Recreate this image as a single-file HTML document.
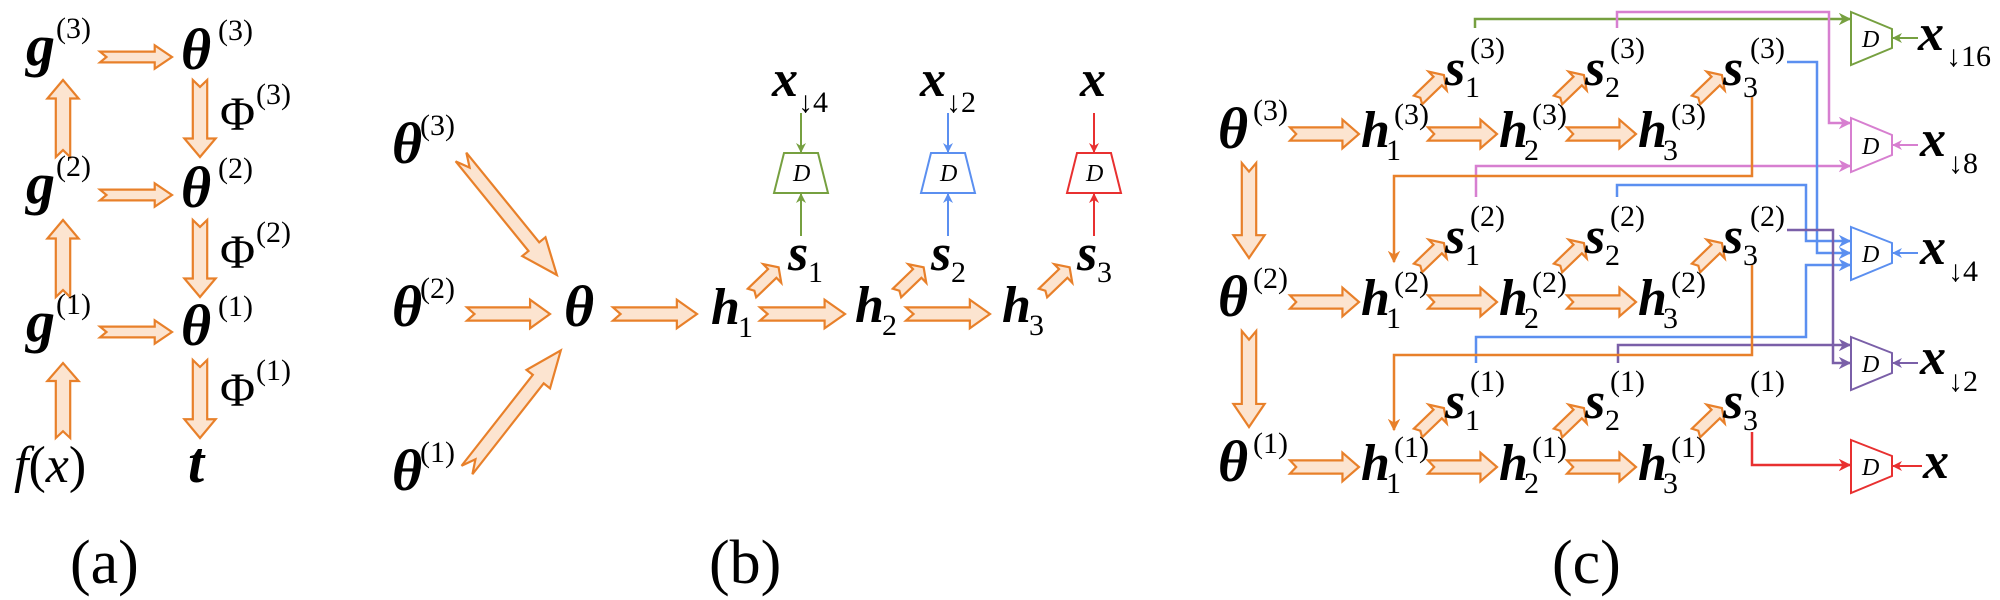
<!DOCTYPE html>
<html><head><meta charset="utf-8"><style>
html,body{margin:0;padding:0;background:#fff;}
svg{display:block;}
svg text{font-family:"Liberation Serif","Times New Roman",Tinos,"Nimbus Roman","DejaVu Serif",serif;}
.m{font-weight:bold;font-style:italic;font-size:52px;fill:#000;}
.t{font-weight:bold;font-style:italic;font-size:58px;fill:#000;}
.n{font-size:30px;fill:#000;}
.p{font-size:48px;fill:#000;}
.it{font-style:italic;font-size:52px;fill:#000;}
.lb{font-size:62px;fill:#000;}
.d{font-style:italic;font-size:24px;fill:#000;}
.fa{fill:#fce4d0;stroke:#e8802a;stroke-width:2.2;stroke-linejoin:miter;}
.w{fill:none;stroke-width:2.5;}
</style></head><body>
<svg width="2000" height="600" viewBox="0 0 2000 600" xmlns="http://www.w3.org/2000/svg" font-family="Liberation Serif, serif">
<defs>
<path id="A" d="M0,-6 L76,-6 L76,-13 L100,0 L76,13 L76,6 L0,6 L9,0 Z" vector-effect="non-scaling-stroke"/>
<marker id="mg" viewBox="0 0 10 10" refX="9" refY="5" markerWidth="5" markerHeight="5" orient="auto"><path d="M0,0L10,5L0,10L3,5z" fill="#76a040"/></marker>
<marker id="mp" viewBox="0 0 10 10" refX="9" refY="5" markerWidth="5" markerHeight="5" orient="auto"><path d="M0,0L10,5L0,10L3,5z" fill="#d77fd0"/></marker>
<marker id="mb" viewBox="0 0 10 10" refX="9" refY="5" markerWidth="5" markerHeight="5" orient="auto"><path d="M0,0L10,5L0,10L3,5z" fill="#5b8ff0"/></marker>
<marker id="mu" viewBox="0 0 10 10" refX="9" refY="5" markerWidth="5" markerHeight="5" orient="auto"><path d="M0,0L10,5L0,10L3,5z" fill="#7a5fa8"/></marker>
<marker id="mr" viewBox="0 0 10 10" refX="9" refY="5" markerWidth="5" markerHeight="5" orient="auto"><path d="M0,0L10,5L0,10L3,5z" fill="#e83030"/></marker>
<marker id="mo" viewBox="0 0 10 10" refX="9" refY="5" markerWidth="5" markerHeight="5" orient="auto"><path d="M0,0L10,5L0,10L3,5z" fill="#e8802a"/></marker>
</defs>

<!-- ===== (a) ===== -->
<g class="fa">
<use href="#A" transform="translate(100,57) scale(0.72,0.9)"/>
<use href="#A" transform="translate(100,195) scale(0.72,0.9)"/>
<use href="#A" transform="translate(100,332) scale(0.72,0.9)"/>
<use href="#A" transform="translate(200,80) rotate(90) scale(0.77,1.2)"/>
<use href="#A" transform="translate(200,220) rotate(90) scale(0.77,1.2)"/>
<use href="#A" transform="translate(200,360) rotate(90) scale(0.78,1.2)"/>
<use href="#A" transform="translate(63,157) rotate(-90) scale(0.77,1.2)"/>
<use href="#A" transform="translate(63,297) rotate(-90) scale(0.77,1.2)"/>
<use href="#A" transform="translate(63,438) rotate(-90) scale(0.75,1.2)"/>
</g>
<text class="t" x="26" y="65">g</text><text class="n" x="56" y="38">(3)</text>
<text class="t" x="26" y="203">g</text><text class="n" x="56" y="176">(2)</text>
<text class="t" x="26" y="341">g</text><text class="n" x="56" y="314">(1)</text>
<text class="t" x="181" y="69">θ</text><text class="n" x="218" y="40">(3)</text>
<text class="t" x="181" y="207">θ</text><text class="n" x="218" y="178">(2)</text>
<text class="t" x="181" y="345">θ</text><text class="n" x="218" y="316">(1)</text>
<text class="p" x="220" y="130">Φ</text><text class="n" x="256" y="104">(3)</text>
<text class="p" x="220" y="268">Φ</text><text class="n" x="256" y="242">(2)</text>
<text class="p" x="220" y="406">Φ</text><text class="n" x="256" y="380">(1)</text>
<text class="it" x="14" y="482">f<tspan font-style="normal">(</tspan>x<tspan font-style="normal">)</tspan></text>
<text class="t" x="188" y="482">t</text>
<text class="lb" x="70" y="583">(a)</text>

<!-- ===== (b) ===== -->
<g class="fa">
<use href="#A" transform="translate(461,157) rotate(50.9) scale(1.52,1.15)"/>
<use href="#A" transform="translate(467,470) rotate(-51.9) scale(1.52,1.15)"/>
<use href="#A" transform="translate(467,314) scale(0.83,1.1)"/>
<use href="#A" transform="translate(613,314) scale(0.84,1.1)"/>
<use href="#A" transform="translate(760,314) scale(0.85,1.1)"/>
<use href="#A" transform="translate(906,314) scale(0.84,1.1)"/>
<use href="#A" transform="translate(752,293) rotate(-44) scale(0.37,1.0)"/>
<use href="#A" transform="translate(897,293) rotate(-44) scale(0.37,1.0)"/>
<use href="#A" transform="translate(1043,293) rotate(-44) scale(0.37,1.0)"/>
</g>
<text class="t" x="392" y="163">θ</text><text class="n" x="420" y="135">(3)</text>
<text class="t" x="392" y="326">θ</text><text class="n" x="420" y="298">(2)</text>
<text class="t" x="392" y="490">θ</text><text class="n" x="420" y="462">(1)</text>
<text class="t" x="564" y="326">θ</text>
<text class="m" x="711" y="324">h</text><text class="n" x="738" y="337">1</text>
<text class="m" x="855" y="322">h</text><text class="n" x="882" y="335">2</text>
<text class="m" x="1002" y="322">h</text><text class="n" x="1029" y="335">3</text>
<text class="m" x="788" y="270">s</text><text class="n" x="808" y="282">1</text>
<text class="m" x="931" y="270">s</text><text class="n" x="951" y="282">2</text>
<text class="m" x="1077" y="270">s</text><text class="n" x="1097" y="282">3</text>
<text class="m" x="772" y="96">x</text><text class="n" x="798" y="112">↓4</text>
<text class="m" x="920" y="96">x</text><text class="n" x="946" y="112">↓2</text>
<text class="m" x="1080" y="96">x</text>
<g>
<path d="M784,153 L818,153 L828,193 L774,193 Z" fill="none" stroke="#76a040" stroke-width="2"/>
<text class="d" x="793" y="181">D</text>
<line x1="801" y1="113" x2="801" y2="152" stroke="#76a040" stroke-width="2" marker-end="url(#mg)"/>
<line x1="801" y1="236" x2="801" y2="194" stroke="#76a040" stroke-width="2" marker-end="url(#mg)"/>
<path d="M931,153 L965,153 L975,193 L921,193 Z" fill="none" stroke="#5b8ff0" stroke-width="2"/>
<text class="d" x="940" y="181">D</text>
<line x1="948" y1="113" x2="948" y2="152" stroke="#5b8ff0" stroke-width="2" marker-end="url(#mb)"/>
<line x1="948" y1="236" x2="948" y2="194" stroke="#5b8ff0" stroke-width="2" marker-end="url(#mb)"/>
<path d="M1077,153 L1111,153 L1121,193 L1067,193 Z" fill="none" stroke="#e83030" stroke-width="2"/>
<text class="d" x="1086" y="181">D</text>
<line x1="1094" y1="113" x2="1094" y2="152" stroke="#e83030" stroke-width="2" marker-end="url(#mr)"/>
<line x1="1094" y1="236" x2="1094" y2="194" stroke="#e83030" stroke-width="2" marker-end="url(#mr)"/>
</g>
<text class="lb" x="709" y="583">(b)</text>

<!-- ===== (c) ===== -->
<g class="fa">
<use href="#A" transform="translate(1249,163) rotate(90) scale(0.95,1.2)"/>
<use href="#A" transform="translate(1249,331) rotate(90) scale(0.96,1.2)"/>
</g>
<g id="row">
<g class="fa">
<use href="#A" transform="translate(1290,134) scale(0.69,1.1)"/>
<use href="#A" transform="translate(1428,134) scale(0.69,1.1)"/>
<use href="#A" transform="translate(1567,134) scale(0.69,1.1)"/>
<use href="#A" transform="translate(1418,100) rotate(-44) scale(0.36,1.0)"/>
<use href="#A" transform="translate(1558,100) rotate(-44) scale(0.36,1.0)"/>
<use href="#A" transform="translate(1696,100) rotate(-44) scale(0.36,1.0)"/>
</g>
</g>
<use href="#row" transform="translate(0,168)"/>
<use href="#row" transform="translate(0,333)"/>

<g>
<text class="t" x="1218" y="148">θ</text><text class="n" x="1253" y="120">(3)</text>
<text class="m" x="1361" y="147">h</text><text class="n" x="1386" y="160">1</text><text class="n" x="1394" y="124">(3)</text>
<text class="m" x="1499" y="147">h</text><text class="n" x="1524" y="160">2</text><text class="n" x="1532" y="124">(3)</text>
<text class="m" x="1638" y="147">h</text><text class="n" x="1663" y="160">3</text><text class="n" x="1671" y="124">(3)</text>
<text class="m" x="1445" y="85">s</text><text class="n" x="1465" y="97">1</text><text class="n" x="1470" y="58">(3)</text>
<text class="m" x="1585" y="85">s</text><text class="n" x="1605" y="97">2</text><text class="n" x="1610" y="58">(3)</text>
<text class="m" x="1723" y="85">s</text><text class="n" x="1743" y="97">3</text><text class="n" x="1750" y="58">(3)</text>
</g>
<g transform="translate(0,168)">
<text class="t" x="1218" y="148">θ</text><text class="n" x="1253" y="120">(2)</text>
<text class="m" x="1361" y="147">h</text><text class="n" x="1386" y="160">1</text><text class="n" x="1394" y="124">(2)</text>
<text class="m" x="1499" y="147">h</text><text class="n" x="1524" y="160">2</text><text class="n" x="1532" y="124">(2)</text>
<text class="m" x="1638" y="147">h</text><text class="n" x="1663" y="160">3</text><text class="n" x="1671" y="124">(2)</text>
<text class="m" x="1445" y="85">s</text><text class="n" x="1465" y="97">1</text><text class="n" x="1470" y="58">(2)</text>
<text class="m" x="1585" y="85">s</text><text class="n" x="1605" y="97">2</text><text class="n" x="1610" y="58">(2)</text>
<text class="m" x="1723" y="85">s</text><text class="n" x="1743" y="97">3</text><text class="n" x="1750" y="58">(2)</text>
</g>
<g transform="translate(0,333)">
<text class="t" x="1218" y="148">θ</text><text class="n" x="1253" y="120">(1)</text>
<text class="m" x="1361" y="147">h</text><text class="n" x="1386" y="160">1</text><text class="n" x="1394" y="124">(1)</text>
<text class="m" x="1499" y="147">h</text><text class="n" x="1524" y="160">2</text><text class="n" x="1532" y="124">(1)</text>
<text class="m" x="1638" y="147">h</text><text class="n" x="1663" y="160">3</text><text class="n" x="1671" y="124">(1)</text>
<text class="m" x="1445" y="85">s</text><text class="n" x="1465" y="97">1</text><text class="n" x="1470" y="58">(1)</text>
<text class="m" x="1585" y="85">s</text><text class="n" x="1605" y="97">2</text><text class="n" x="1610" y="58">(1)</text>
<text class="m" x="1723" y="85">s</text><text class="n" x="1743" y="97">3</text><text class="n" x="1750" y="58">(1)</text>
</g>

<path class="w" stroke="#76a040" d="M1475,28 V19 H1850" marker-end="url(#mg)"/>
<path class="w" stroke="#d77fd0" d="M1617,28 V12 H1829 V123 H1850" marker-end="url(#mp)"/>
<path class="w" stroke="#d77fd0" d="M1476,197 V166 H1850" marker-end="url(#mp)"/>
<path class="w" stroke="#e8802a" stroke-width="3" d="M1752,97 V176 H1394 V262" marker-end="url(#mo)"/>
<path class="w" stroke="#5b8ff0" d="M1787,62 H1817 V253 H1850" marker-end="url(#mb)"/>
<path class="w" stroke="#5b8ff0" d="M1617,197 V185 H1806 V241 H1850" marker-end="url(#mb)"/>
<path class="w" stroke="#5b8ff0" d="M1476,363 V337 H1806 V265 H1850" marker-end="url(#mb)"/>
<path class="w" stroke="#7a5fa8" d="M1787,230 H1833 V363 H1850" marker-end="url(#mu)"/>
<path class="w" stroke="#7a5fa8" d="M1618,363 V345 H1850" marker-end="url(#mu)"/>
<path class="w" stroke="#e8802a" stroke-width="3" d="M1752,265 V355 H1394 V430" marker-end="url(#mo)"/>
<path class="w" stroke="#e83030" d="M1752,432 V465 H1850" marker-end="url(#mr)"/>

<g stroke-width="2" fill="none">
<path d="M1851,12 L1892,29 L1892,48 L1851,65 Z" stroke="#76a040"/>
<path d="M1851,118 L1892,135 L1892,155 L1851,172 Z" stroke="#d77fd0"/>
<path d="M1851,227 L1892,243 L1892,263 L1851,280 Z" stroke="#5b8ff0"/>
<path d="M1851,337 L1892,353 L1892,373 L1851,390 Z" stroke="#7a5fa8"/>
<path d="M1851,440 L1892,456 L1892,476 L1851,493 Z" stroke="#e83030"/>
<line x1="1918" y1="38" x2="1893" y2="38" stroke="#76a040" marker-end="url(#mg)"/>
<line x1="1918" y1="145" x2="1893" y2="145" stroke="#d77fd0" marker-end="url(#mp)"/>
<line x1="1918" y1="253" x2="1893" y2="253" stroke="#5b8ff0" marker-end="url(#mb)"/>
<line x1="1918" y1="363" x2="1893" y2="363" stroke="#7a5fa8" marker-end="url(#mu)"/>
<line x1="1922" y1="466" x2="1893" y2="466" stroke="#e83030" marker-end="url(#mr)"/>
</g>
<text class="d" x="1862" y="47">D</text>
<text class="d" x="1862" y="154">D</text>
<text class="d" x="1862" y="262">D</text>
<text class="d" x="1862" y="372">D</text>
<text class="d" x="1862" y="475">D</text>
<text class="m" x="1918" y="50">x</text><text class="n" x="1946" y="66">↓16</text>
<text class="m" x="1920" y="156">x</text><text class="n" x="1948" y="173">↓8</text>
<text class="m" x="1920" y="264">x</text><text class="n" x="1948" y="281">↓4</text>
<text class="m" x="1920" y="374">x</text><text class="n" x="1948" y="391">↓2</text>
<text class="m" x="1923" y="478">x</text>
<text class="lb" x="1552" y="583">(c)</text>
</svg>
</body></html>
